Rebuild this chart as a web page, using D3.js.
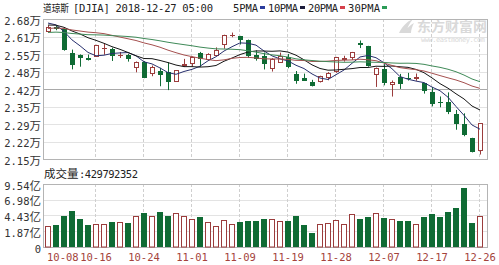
<!DOCTYPE html>
<html>
<head>
<meta charset="utf-8">
<script src="https://cdn.jsdelivr.net/npm/d3@7"></script>
<style>
  body { margin: 0; background: #fff; }
  svg { display: block; }
</style>
</head>
<body>
<svg id="kline" width="499" height="265"></svg>
<script>
// trading days shown on the chart
var dates = ["10-08","10-09","10-10","10-11","10-12","10-15","10-16","10-17","10-18","10-19",
  "10-22","10-23","10-24","10-25","10-26","10-29","10-30","10-31","11-01","11-02",
  "11-05","11-06","11-07","11-08","11-09","11-12","11-13","11-14","11-15","11-16",
  "11-19","11-20","11-21","11-23","11-26","11-27","11-28","11-29","11-30","12-03",
  "12-04","12-06","12-07","12-10","12-11","12-12","12-13","12-14","12-17","12-18",
  "12-19","12-20","12-21","12-24","12-26"];

var open  = [26330,26490,26403,25500,25440,25310,25380,25690,25650,25430,
  25451,24994,25183,24763,24823,24818,24482,25077,25151,25494,
  25286,25461,25832,26185,26151,25988,25445,25389,24946,25202,
  25378,24710,24577,24420,24447,24582,24850,25309,25349,25900,
  25781,24740,24919,24346,24629,24578,24560,24400,24052,23690,
  23684,23224,22871,22317,21857];
var high  = [26550,26522,26415,25640,25460,25455,25819,25857,25710,25551,
  25479,25195,25210,25043,24958,25163,24875,25292,25384,25553,
  25502,25722,26197,26277,26153,26014,25611,25531,25319,25527,
  25477,24838,24741,24508,24663,24798,25367,25409,25553,25980,
  25781,24969,25095,24485,24730,24769,24745,24400,24240,23885,
  24039,23382,23254,22339,22879];
var low   = [26277,26364,25599,24900,25000,25231,25370,25448,25214,25326,
  25190,24790,24570,24643,24268,24123,24430,24998,25000,24994,
  25285,25405,25672,26102,25829,25324,25226,24897,24818,25195,
  24941,24361,24464,24262,24408,24491,24771,25189,25255,25697,
  24999,24242,24303,23882,24168,24482,24473,23993,23514,23480,
  23225,22640,22397,21792,21712];
var close = [26487,26431,25599,25053,25340,25251,25798,25707,25379,25444,
  25317,25191,24583,24985,24688,24443,24875,25116,25381,25271,
  25462,25635,26180,26191,25989,25387,25286,25081,25289,25413,
  25017,24466,24465,24286,24640,24749,25366,25339,25538,25826,
  25027,24948,24389,24423,24370,24527,24597,24101,23593,23676,
  23324,22860,22445,21792,22878];
// volume in 亿 (1e8)
var volume = [2.72,2.84,4.40,5.21,3.91,2.84,3.05,3.05,3.32,3.42,
  3.16,4.40,4.88,4.30,5.00,4.35,4.78,4.40,3.81,4.23,
  3.32,2.67,3.65,3.00,3.32,3.49,3.54,3.81,3.81,3.54,
  3.54,4.40,2.84,1.64,3.00,3.16,3.65,3.05,4.62,3.91,
  4.23,4.78,3.97,3.81,3.49,3.49,3.00,4.14,4.62,4.14,
  5.04,5.69,8.84,3.16,4.29792352];

var ma5  = [26633,26564,26318,26003,25782,25535,25408,25430,25495,25516,
  25529,25408,25183,25104,24953,24778,24715,24821,24901,25017,
  25221,25373,25586,25748,25891,25876,25807,25587,25406,25291,
  25217,25053,24930,24729,24575,24521,24701,24876,25126,25364,
  25419,25336,25146,24923,24631,24531,24461,24404,24238,24099,
  23858,23511,23180,22819,22660];
var ma10 = [26559,26553,26474,26336,26224,26084,25986,25874,25749,25649,
  25532,25408,25306,25300,25234,25154,25061,25002,25002,24985,
  24999,25044,25204,25324,25454,25549,25590,25586,25577,25591,
  25547,25430,25258,25068,24933,24869,24877,24903,24928,24969,
  24970,25018,25011,25025,24997,24975,24898,24775,24580,24365,
  24195,23986,23792,23528,23379];
var ma20 = [26427,26450,26430,26375,26335,26294,26272,26237,26173,26108,
  26045,25980,25890,25818,25729,25619,25524,25438,25376,25317,
  25266,25226,25255,25312,25344,25351,25326,25294,25290,25288,
  25273,25237,25231,25196,25194,25209,25234,25245,25253,25280,
  25259,25224,25135,25046,24965,24922,24888,24839,24754,24667,
  24582,24502,24401,24276,24188];
var ma30 = [26281,26294,26278,26242,26221,26197,26192,26183,26162,26147,
  26129,26103,26055,26017,25968,25914,25868,25825,25783,25733,
  25697,25668,25661,25653,25637,25595,25546,25487,25443,25408,
  25359,25294,25256,25231,25207,25190,25176,25164,25169,25182,
  25172,25164,25158,25139,25128,25131,25122,25088,25028,24975,
  24904,24811,24687,24540,24437];

var priceTicks = [21545,22200,22855,23510,24165,24820,25475,26130,26785];
var volTicks = [-0.685, 1.87, 4.43, 6.98, 9.54];
var volTickLabels = ["0","1.87","4.43","6.98","9.54"];
var dateTicks = ["10-08","10-16","10-24","11-01","11-09","11-19","11-28","12-07","12-17","12-26"];
var maNames = ["5PMA","10PMA","20PMA","30PMA"];

var mono = "'DejaVu Sans Mono', monospace";
var cjk = "'Noto Sans CJK SC', sans-serif";
var upColor = "#9b3c3c", downColor = "#0f6b34";

var svg = d3.select("#kline");
var left = 43, right = 487, pTop = 19, pBot = 159, vTop = 184, vBot = 247;

var x = d3.scalePoint().domain(dates).range([48, 480]);
var y = d3.scaleLinear().domain([priceTicks[0], priceTicks[priceTicks.length-1]]).range([pBot, pTop]);
var yv = d3.scaleLinear().domain([volTicks[0], volTicks[volTicks.length-1]]).range([vBot, vTop]);

var data = dates.map(function(d, i){
  return {d: d, o: open[i], h: high[i], l: low[i], c: close[i], v: volume[i]};
});

// watermark
var wm = svg.append("g").attr("fill", "#d9d9d9");
wm.append("path").attr("d", "M399,33 C402,27 406,22 413,19 C409,24 407,28 406,33 Z M404,33 C407,28 410,25 414,23 C412,27 411,30 411,33 Z");
wm.append("text").attr("x", 417).attr("y", 31).attr("font-family", cjk).attr("font-weight", "bold")
  .attr("font-size", 13).attr("textLength", 70).attr("lengthAdjust", "spacingAndGlyphs").text("东方财富网");
wm.append("text").attr("x", 421).attr("y", 42).attr("font-family", mono).attr("font-size", 7)
  .attr("textLength", 64).text("www.eastmoney.com");

// price grid
var grid = svg.append("g");
grid.selectAll("line.h").data(priceTicks).enter().append("line")
  .attr("x1", left).attr("x2", right)
  .attr("y1", function(d){ return Math.round(y(d)) + 0.5; })
  .attr("y2", function(d){ return Math.round(y(d)) + 0.5; })
  .attr("stroke", function(d, i){ return i === 4 ? "#a9a9a9" : "#e3e3e3"; });
grid.selectAll("line.hv").data(volTicks.slice(1, -1)).enter().append("line")
  .attr("x1", left).attr("x2", right)
  .attr("y1", function(d){ return Math.round(yv(d)) + 0.5; })
  .attr("y2", function(d){ return Math.round(yv(d)) + 0.5; })
  .attr("stroke", "#e3e3e3");
[[pTop, pBot], [vTop, vBot]].forEach(function(r){
  grid.selectAll(null).data(dateTicks.slice(1)).enter().append("line")
    .attr("x1", function(d){ return x(d) - 0.5; })
    .attr("x2", function(d){ return x(d) - 0.5; })
    .attr("y1", r[0]).attr("y2", r[1])
    .attr("stroke", "#cfcfcf").attr("stroke-dasharray", "3,2");
});

// panel borders
svg.append("rect").attr("x", left + 0.5).attr("y", pTop + 0.5).attr("width", right - left).attr("height", pBot - pTop)
  .attr("fill", "none").attr("stroke", "#b4b4b4");
svg.append("rect").attr("x", left + 0.5).attr("y", vTop + 0.5).attr("width", right - left).attr("height", vBot - vTop)
  .attr("fill", "none").attr("stroke", "#b4b4b4");

// candles
var candles = svg.append("g").selectAll("g").data(data).enter().append("g");
candles.append("line")
  .attr("x1", function(d){ return x(d.d) + 0.5; })
  .attr("x2", function(d){ return x(d.d) + 0.5; })
  .attr("y1", function(d){ return y(d.h); })
  .attr("y2", function(d){ return y(d.l); })
  .attr("stroke", function(d){ return d.c >= d.o ? upColor : downColor; });
candles.append("rect")
  .attr("x", function(d){ return d.c >= d.o ? x(d.d) - 1.5 : x(d.d) - 2; })
  .attr("width", function(d){ return d.c >= d.o ? 4 : 5; })
  .attr("y", function(d){
    var t = y(Math.max(d.o, d.c));
    return d.c >= d.o ? Math.round(t) + 0.5 : Math.round(t);
  })
  .attr("height", function(d){
    var h = Math.round(y(Math.min(d.o, d.c)) - y(Math.max(d.o, d.c)));
    return d.c >= d.o ? Math.max(h, 0.01) : Math.max(h, 1);
  })
  .attr("fill", function(d){ return d.c >= d.o ? "#fff" : downColor; })
  .attr("stroke", function(d){ return d.c >= d.o ? upColor : "none"; });

// moving averages
var maLine = d3.line().x(function(d, i){ return x(dates[i]); }).y(function(d){ return y(d); });
var maSeries = [ma5, ma10, ma20, ma30];
var maColors = ["#28306e", "#151515", "#a5504f", "#3f8a58"];
svg.append("g").selectAll("path").data(maSeries).enter().append("path")
  .attr("d", maLine)
  .attr("fill", "none")
  .attr("stroke", function(d, i){ return maColors[i]; })
  .attr("stroke-width", 1);

// volume bars
svg.append("g").selectAll("rect").data(data).enter().append("rect")
  .attr("x", function(d){ return d.c >= d.o ? x(d.d) - 2.5 : x(d.d) - 3; })
  .attr("width", function(d){ return d.c >= d.o ? 5 : 6; })
  .attr("y", function(d){ return d.c >= d.o ? Math.round(yv(d.v)) + 0.5 : Math.round(yv(d.v)); })
  .attr("height", function(d){ return vBot - Math.round(yv(d.v)) - (d.c >= d.o ? 0.5 : 0); })
  .attr("fill", function(d){ return d.c >= d.o ? "#fff" : downColor; })
  .attr("stroke", function(d){ return d.c >= d.o ? upColor : "none"; });

// price axis labels
var pl = svg.append("g").attr("fill", "#333");
priceTicks.forEach(function(v){
  var t = pl.append("text").attr("x", 41).attr("y", y(v)).attr("dy", "0.35em").attr("text-anchor", "end");
  t.append("tspan").attr("font-family", mono).attr("font-size", 10.5).text((v / 10000).toFixed(2));
  t.append("tspan").attr("font-family", cjk).attr("font-size", 11.5).text("万");
});
volTicks.forEach(function(v, i){
  var t = pl.append("text").attr("x", 41).attr("y", yv(v)).attr("dy", "0.35em").attr("text-anchor", "end");
  t.append("tspan").attr("font-family", mono).attr("font-size", 10.5).text(volTickLabels[i]);
  if (i > 0) t.append("tspan").attr("font-family", cjk).attr("font-size", 11.5).text("亿");
});

// date labels
svg.append("g").selectAll("text").data(dateTicks).enter().append("text")
  .attr("x", function(d, i){ return i === 0 ? left + 4 : x(d); })
  .attr("y", 261)
  .attr("text-anchor", function(d, i){ return i === 0 ? "start" : "middle"; })
  .attr("font-family", mono).attr("font-size", 10.5)
  .attr("fill", "#a4433c")
  .text(function(d){ return d; });

// title and legend
var title = svg.append("g").attr("fill", "#222");
title.append("text").attr("x", 43).attr("y", 12).attr("font-family", cjk).attr("font-size", 10.5)
  .attr("textLength", 26).attr("lengthAdjust", "spacingAndGlyphs").text("道琼斯");
title.append("text").attr("x", 73).attr("y", 12).attr("font-family", mono).attr("font-size", 10.5)
  .attr("textLength", 140).text("[DJIA] 2018-12-27 05:00");
var legX = [233, 268, 308, 348];
var legW = [25, 30, 30, 32];
var legColors = ["#2b3c9c", "#1c1c3a", "#d6414b", "#2b9c57"];
maNames.forEach(function(n, i){
  title.append("text").attr("x", legX[i]).attr("y", 12).attr("font-family", mono).attr("font-size", 10.5)
    .attr("textLength", legW[i]).text(n);
  title.append("rect").attr("x", legX[i] + legW[i] + 2).attr("y", 6).attr("width", 5).attr("height", 3)
    .attr("fill", legColors[i]);
});

// volume caption
title.append("text").attr("x", 44).attr("y", 178).attr("font-family", cjk).attr("font-size", 11.5).text("成交量");
title.append("text").attr("x", 79).attr("y", 178).attr("font-family", mono).attr("font-size", 10.5)
  .attr("textLength", 59).text(":429792352");
</script>
</body>
</html>
